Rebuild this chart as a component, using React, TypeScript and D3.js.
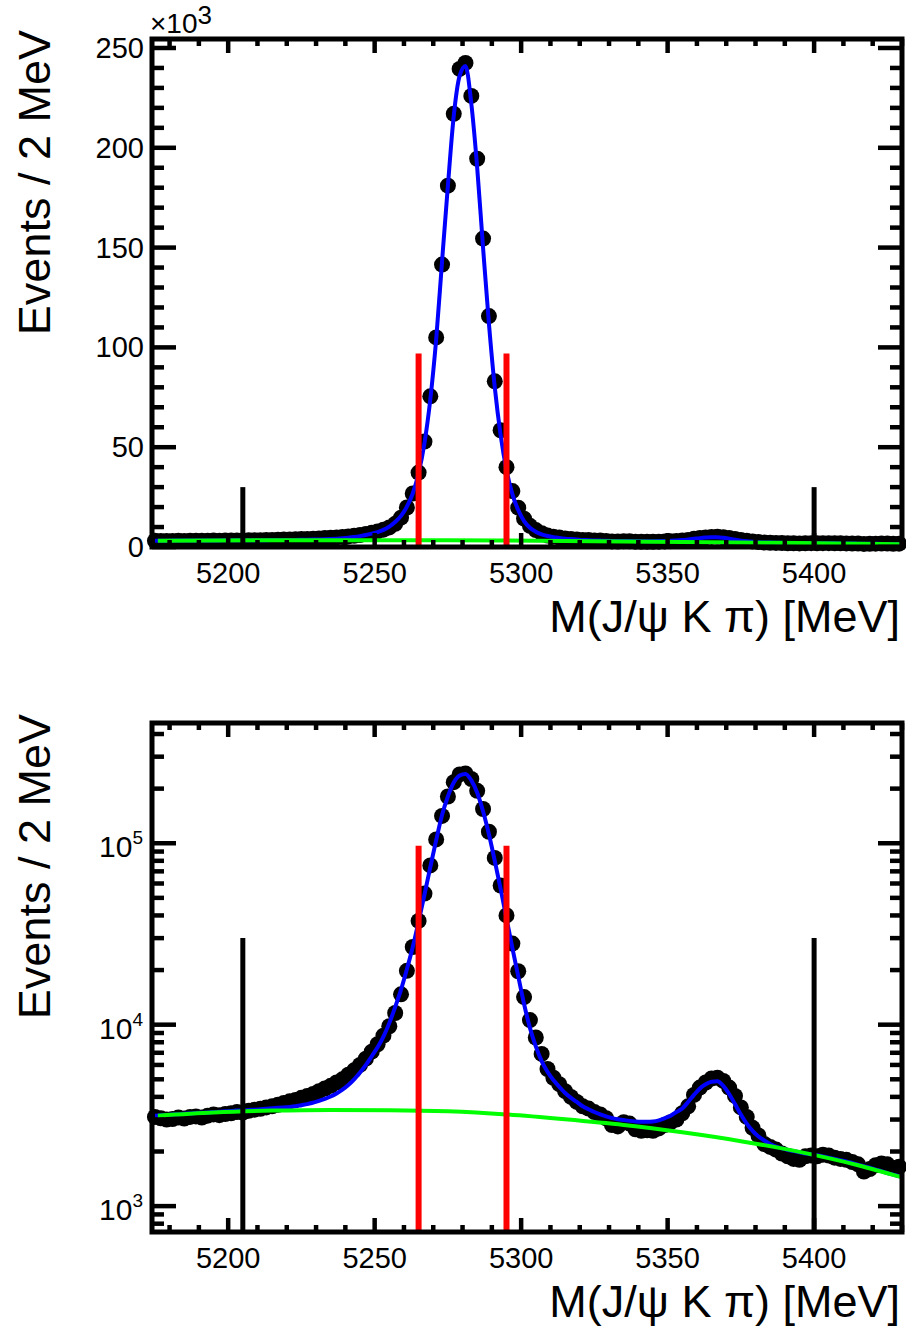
import React from 'react';
import * as d3 from 'd3';

const W = 906;
const H = 1326;
const frameLeft = 152;
const frameRight = 902;
const font = '"Liberation Sans", Arial, Helvetica, sans-serif';

// histogram binning (2 MeV bins)
const binLow = 5174;
const binWidth = 2;
const massRange = [5174, 5430];

// events per bin, in units of 1e3, bins starting at 5174 MeV
const events = [
  3.1, 3.05, 3.0, 3.02, 3.08, 3.04, 3.1, 3.12, 3.08, 3.15, 3.2, 3.17, 3.22, 3.25, 3.3,
  3.28, 3.35, 3.4, 3.44, 3.5, 3.55, 3.62, 3.7, 3.78, 3.85, 3.95, 4.05, 4.15, 4.3, 4.45,
  4.6, 4.8, 5.0, 5.3, 5.6, 6.0, 6.5, 7.1, 7.8, 8.7, 9.8, 11.6, 14.7, 19.8, 26.8,
  37.3, 52.8, 75.5, 105, 141.5, 181, 217, 239.5, 242.5, 226, 194.5, 154.5, 115.7, 83,
  58.5, 40, 28, 19.7, 14.2,
  10.6, 8.5, 6.9, 5.7, 5.1, 4.7, 4.3, 4.0, 3.75, 3.55, 3.45, 3.3, 3.2, 3.05, 2.8, 2.75,
  2.9, 2.85, 2.65, 2.6, 2.62, 2.6, 2.68, 2.8, 2.9, 3.0, 3.25, 3.55, 4.1, 4.5, 4.8, 5.05,
  5.1, 4.9, 4.5, 4.05, 3.5, 3.1, 2.7, 2.45, 2.2, 2.12, 2.05, 1.95, 1.88, 1.82, 1.8, 1.88,
  1.9, 1.88, 1.92, 1.9, 1.85, 1.82, 1.8, 1.75, 1.7, 1.55, 1.6, 1.68, 1.72, 1.7, 1.62, 1.65
];

// total fit at bin centres (blue)
const fitTotal = [
  3.15, 3.17, 3.18, 3.2, 3.21, 3.23, 3.24, 3.26, 3.27, 3.28, 3.3, 3.31, 3.33, 3.34, 3.36,
  3.37, 3.39, 3.4, 3.42, 3.44, 3.46, 3.48, 3.5, 3.52, 3.55, 3.6, 3.65, 3.72, 3.8, 3.9,
  4.02, 4.18, 4.38, 4.65, 5.0, 5.45, 6.0, 6.7, 7.5, 8.6, 10.2, 12.5, 15.6, 20.2, 26.8,
  37, 52, 74, 104, 143, 181, 216, 236, 241, 222, 190, 150, 112, 80, 56, 38.5, 26.5,
  18.5, 13.0,
  9.6, 7.6, 6.3, 5.5, 4.95, 4.55, 4.2, 3.95, 3.75, 3.55, 3.42, 3.3, 3.2, 3.12, 3.06, 3.01,
  2.98, 2.95, 2.93, 2.92, 2.92, 2.93, 2.97, 3.05, 3.15, 3.3, 3.45, 3.75, 4.1, 4.45, 4.7,
  4.85, 4.88, 4.6, 4.15, 3.65, 3.2, 2.85, 2.6, 2.42, 2.3, 2.2, 2.13, 2.08, 2.04, 2.01,
  1.98, 1.95, 1.93, 1.91, 1.88, 1.85, 1.82, 1.79, 1.76, 1.73, 1.69, 1.66, 1.63, 1.59,
  1.56, 1.52, 1.49, 1.46
];

// background component (green)
const bkgMass = [5176, 5195, 5215, 5235, 5255, 5275, 5295, 5315, 5335, 5355, 5375, 5395, 5415, 5430];
const bkgLevel = [3.15, 3.28, 3.36, 3.39, 3.38, 3.33, 3.2, 3.01, 2.8, 2.55, 2.28, 1.99, 1.68, 1.44];

const massTicks = [5200, 5250, 5300, 5350, 5400];
const linTicks = [0, 50, 100, 150, 200, 250];
const logTicks = [1, 10, 100];
const logExponents = ['3', '4', '5'];

const sidebandLines = [5205, 5400];
const signalLines = [5265, 5295];
const sidebandTop = 30;
const signalTop = 97;

function XTitle({ y }) {
  return (
    <text x={900} y={y} textAnchor="end" fontSize={45} fontFamily={font}>
      M(J/<tspan>ψ</tspan> K <tspan>π</tspan>) [MeV]
    </text>
  );
}

function Panel({ log, top, bottom }) {
  const x = d3.scaleLinear().domain(massRange).range([frameLeft, frameRight]);
  const y = log
    ? d3.scaleLog().domain([0.72, 460]).range([bottom, top])
    : d3.scaleLinear().domain([0, 254.5]).range([bottom, top]);
  const yMin = y.domain()[0];

  const centres = events.map((_, i) => binLow + binWidth * (i + 0.5));
  const fitLine = d3
    .line<number>()
    .x((_, i) => x(centres[i]))
    .y(d => y(d))
    .curve(d3.curveMonotoneX);
  const bkgLine = d3
    .line<number>()
    .x((_, i) => x(bkgMass[i]))
    .y(d => y(d))
    .curve(d3.curveMonotoneX);

  const xMinor = x.ticks(25);
  const yMinor = log ? y.ticks() : y.ticks(25);
  const yMajor = log ? logTicks : linTicks;

  return (
    <g>
      {events.map((d, i) => (
        <circle key={i} cx={x(centres[i])} cy={y(d)} r={8} fill="black" />
      ))}
      <path d={fitLine(fitTotal)} fill="none" stroke="#0000ff" strokeWidth={4} />
      <path d={bkgLine(bkgLevel)} fill="none" stroke="#00ff00" strokeWidth={4} />
      {sidebandLines.map(m => (
        <line key={m} x1={x(m)} x2={x(m)} y1={y(yMin)} y2={y(sidebandTop)} stroke="black" strokeWidth={5} />
      ))}
      {signalLines.map(m => (
        <line key={m} x1={x(m)} x2={x(m)} y1={y(yMin)} y2={y(signalTop)} stroke="#ff0000" strokeWidth={6} />
      ))}

      {/* frame */}
      <rect x={frameLeft} y={top} width={frameRight - frameLeft} height={bottom - top}
        fill="none" stroke="black" strokeWidth={5} />

      {/* x ticks, bottom and top */}
      {xMinor.map(t => {
        const len = massTicks.includes(t) ? 14 : 7;
        return (
          <g key={'x' + t}>
            <line x1={x(t)} x2={x(t)} y1={bottom} y2={bottom - len} stroke="black" strokeWidth={4.5} />
            <line x1={x(t)} x2={x(t)} y1={top} y2={top + len} stroke="black" strokeWidth={4.5} />
          </g>
        );
      })}
      {/* y ticks, left and right */}
      {yMinor.map(t => {
        const len = yMajor.some(m => Math.abs(m - t) < 1e-9) ? 24 : 12;
        return (
          <g key={'y' + t}>
            <line x1={frameLeft} x2={frameLeft + len} y1={y(t)} y2={y(t)} stroke="black" strokeWidth={4.5} />
            <line x1={frameRight} x2={frameRight - len} y1={y(t)} y2={y(t)} stroke="black" strokeWidth={4.5} />
          </g>
        );
      })}

      {massTicks.map(t => (
        <text key={t} x={x(t)} y={bottom + 36} textAnchor="middle" fontSize={29} fontFamily={font}>
          {t}
        </text>
      ))}
      {log
        ? logTicks.map((t, i) => (
            <text key={t} x={143} y={y(t) + 14} textAnchor="end" fontSize={30} fontFamily={font}>
              10<tspan dy={-13} fontSize={19}>{logExponents[i]}</tspan>
            </text>
          ))
        : linTicks.map(t => (
            <text key={t} x={144} y={y(t) + 10} textAnchor="end" fontSize={29} fontFamily={font}>
              {t}
            </text>
          ))}
      {!log && (
        <text x={150} y={33} fontSize={28} fontFamily={font}>
          ×10<tspan dy={-9} fontSize={26}>3</tspan>
        </text>
      )}

      <text transform={`translate(50, ${top - 9}) rotate(-90)`} textAnchor="end" fontSize={45} fontFamily={font}>
        Events / 2 MeV
      </text>
      <XTitle y={bottom + 85} />
    </g>
  );
}

export default function App() {
  return (
    <svg width={W} height={H} style={{ position: 'absolute', left: 0, top: 0, background: 'white' }}>
      <rect width={W} height={H} fill="white" />
      <Panel log={false} top={39} bottom={547} />
      <Panel log={true} top={723} bottom={1232} />
    </svg>
  );
}
